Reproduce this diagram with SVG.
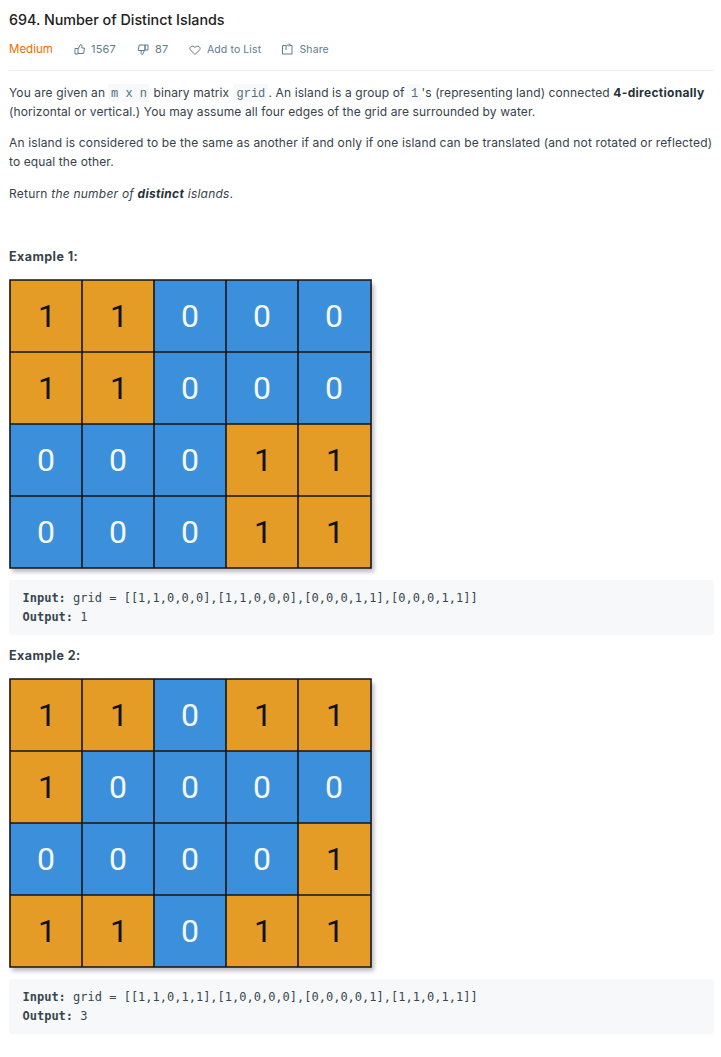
<svg xmlns="http://www.w3.org/2000/svg" width="721" height="1057" viewBox="0 0 721 1057">
<style>
text{font-family:Inter,"Noto Sans","Liberation Sans",sans-serif;fill:#37424a;font-size:12px;letter-spacing:.11px}
.title{font-size:14.3px;font-weight:500;fill:#212121;letter-spacing:0}
.meta{font-size:11px;fill:#607d8b;letter-spacing:.2px}
.meta2{font-size:10.500px;fill:#607d8b;letter-spacing:.1px}
.b{font-weight:700;fill:#263238;letter-spacing:.3px}
.h{font-size:12.500px;font-weight:700;fill:#37424a;letter-spacing:.45px}
.code{font-family:"DejaVu Sans Mono","Liberation Mono",monospace;font-size:12px;fill:#37474f;letter-spacing:0}
.inl{font-family:"Liberation Mono",monospace;font-size:12px;fill:#546e7a;letter-spacing:0}
.chip{fill:#f7f9fa}
.pre{fill:#f7f8fa}
.icon{fill:none;stroke:#607d8b;stroke-width:1;stroke-linejoin:round}
.o{fill:#e59c26}.w{fill:#3c90db}
.line{stroke:#141414;stroke-width:1.600;fill:none}
.n{font-family:Roboto,"Liberation Sans",Arial,sans-serif;font-size:32px;text-anchor:middle;letter-spacing:0}
.n1{fill:#111}.n0{fill:#f4f9fd}
</style>
<defs>
<filter id="blur" x="-5%" y="-5%" width="110%" height="110%"><feGaussianBlur stdDeviation="2"/></filter>
<g id="c1"><rect class="o" width="72" height="72"/><text class="n n1" x="37" y="47">1</text></g>
<g id="c0"><rect class="w" width="72" height="72"/><text class="n n0" x="36" y="47">0</text></g>
</defs>
<rect width="721" height="1057" fill="#fff"/>
<g id="header">
<text class="title" x="9" y="25">694. Number of Distinct Islands</text>
<text class="meta" x="9" y="53" style="fill:#ef6c00;font-size:11.500px;letter-spacing:0">Medium</text>
<path class="icon" d="M75 48.500h3v5.500h-3zM78 49l2.500-4.500c1.300 0 1.700 1 1.500 2l-.4 1.500h2.900l-.9 5.500h-5.600"/>
<text class="meta" x="91" y="53">1567</text>
<path class="icon" d="M145 50.500h-6.800l1-5.500h5.800zM145 45h3v5h-3zM144.500 50.500l-2 4c-1.300 0-1.700-1-1.500-2l.3-2"/>
<text class="meta" x="155" y="53">87</text>
<path class="icon" d="M195 54.500l-4.500-4.500c-2-2.500 1.500-5.500 4.500-2.700 3-2.800 6.500 .2 4.500 2.700z"/>
<text class="meta2" x="207" y="53">Add to List</text>
<path class="icon" d="M286 45.500h-3.500v8.500h9.500v-8.500h-2M286 50v-3c0-1.500 1-2 2-2h2M289 43.500l1.500 1.500-1.500 1.500"/>
<text class="meta2" x="299.500" y="53">Share</text>
<rect x="9" y="70" width="705" height="1" fill="#eceff1"/>
</g>
<g id="description">
<rect class="chip" x="108" y="84" width="42" height="18" rx="3"/>
<rect class="chip" x="233" y="84" width="35" height="18" rx="3"/>
<rect class="chip" x="407" y="84" width="14" height="18" rx="3"/>
<text x="9" y="97">You are given an</text>
<text class="inl" x="111" y="97" xml:space="preserve">m x n</text>
<text x="153.500" y="97">binary matrix</text>
<text class="inl" x="236.500" y="97">grid</text>
<text x="268.500" y="97">. An island is a group of</text>
<text class="inl" x="411" y="97">1</text>
<text x="421.500" y="97">'s (representing land) connected <tspan class="b">4-directionally</tspan></text>
<text x="9" y="116">(horizontal or vertical.) You may assume all four edges of the grid are surrounded by water.</text>
<text x="9" y="147" style="letter-spacing:.135px">An island is considered to be the same as another if and only if one island can be translated (and not rotated or reflected)</text>
<text x="9" y="166">to equal the other.</text>
<text x="9" y="198" style="letter-spacing:.22px">Return <tspan font-style="italic">the number of <tspan class="b">distinct</tspan> islands</tspan>.</text>
<text class="h" x="9" y="261">Example 1:</text>
</g>
<g id="grid1">
<rect x="12" y="284" width="362" height="288" fill="#667" opacity=".45" filter="url(#blur)"/>
<use href="#c1" x="10" y="280"/><use href="#c1" x="82" y="280"/><use href="#c0" x="154" y="280"/><use href="#c0" x="226" y="280"/><use href="#c0" x="298" y="280"/>
<use href="#c1" x="10" y="352"/><use href="#c1" x="82" y="352"/><use href="#c0" x="154" y="352"/><use href="#c0" x="226" y="352"/><use href="#c0" x="298" y="352"/>
<use href="#c0" x="10" y="424"/><use href="#c0" x="82" y="424"/><use href="#c0" x="154" y="424"/><use href="#c1" x="226" y="424"/><use href="#c1" x="298" y="424"/>
<use href="#c0" x="10" y="496"/><use href="#c0" x="82" y="496"/><use href="#c0" x="154" y="496"/><use href="#c1" x="226" y="496"/><use href="#c1" x="298" y="496"/>
<path class="line" d="M10 280H371V568H10ZM82 280V568M154 280V568M226 280V568M298 280V568M10 352H371M10 424H371M10 496H371"/>
</g>
<g id="example1">
<rect class="pre" x="9" y="580" width="705" height="55" rx="3"/>
<text class="code" x="22.500" y="602"><tspan font-weight="700">Input:</tspan> grid = [[1,1,0,0,0],[1,1,0,0,0],[0,0,0,1,1],[0,0,0,1,1]]</text>
<text class="code" x="22.500" y="621"><tspan font-weight="700">Output:</tspan> 1</text>
<text class="h" x="9" y="660">Example 2:</text>
</g>
<g id="grid2">
<rect x="12" y="683" width="362" height="288" fill="#667" opacity=".45" filter="url(#blur)"/>
<use href="#c1" x="10" y="679"/><use href="#c1" x="82" y="679"/><use href="#c0" x="154" y="679"/><use href="#c1" x="226" y="679"/><use href="#c1" x="298" y="679"/>
<use href="#c1" x="10" y="751"/><use href="#c0" x="82" y="751"/><use href="#c0" x="154" y="751"/><use href="#c0" x="226" y="751"/><use href="#c0" x="298" y="751"/>
<use href="#c0" x="10" y="823"/><use href="#c0" x="82" y="823"/><use href="#c0" x="154" y="823"/><use href="#c0" x="226" y="823"/><use href="#c1" x="298" y="823"/>
<use href="#c1" x="10" y="895"/><use href="#c1" x="82" y="895"/><use href="#c0" x="154" y="895"/><use href="#c1" x="226" y="895"/><use href="#c1" x="298" y="895"/>
<path class="line" d="M10 679H371V967H10ZM82 679V967M154 679V967M226 679V967M298 679V967M10 751H371M10 823H371M10 895H371"/>
</g>
<g id="example2">
<rect class="pre" x="9" y="979" width="705" height="55" rx="3"/>
<text class="code" x="22.500" y="1001"><tspan font-weight="700">Input:</tspan> grid = [[1,1,0,1,1],[1,0,0,0,0],[0,0,0,0,1],[1,1,0,1,1]]</text>
<text class="code" x="22.500" y="1020"><tspan font-weight="700">Output:</tspan> 3</text>
</g>
</svg>
